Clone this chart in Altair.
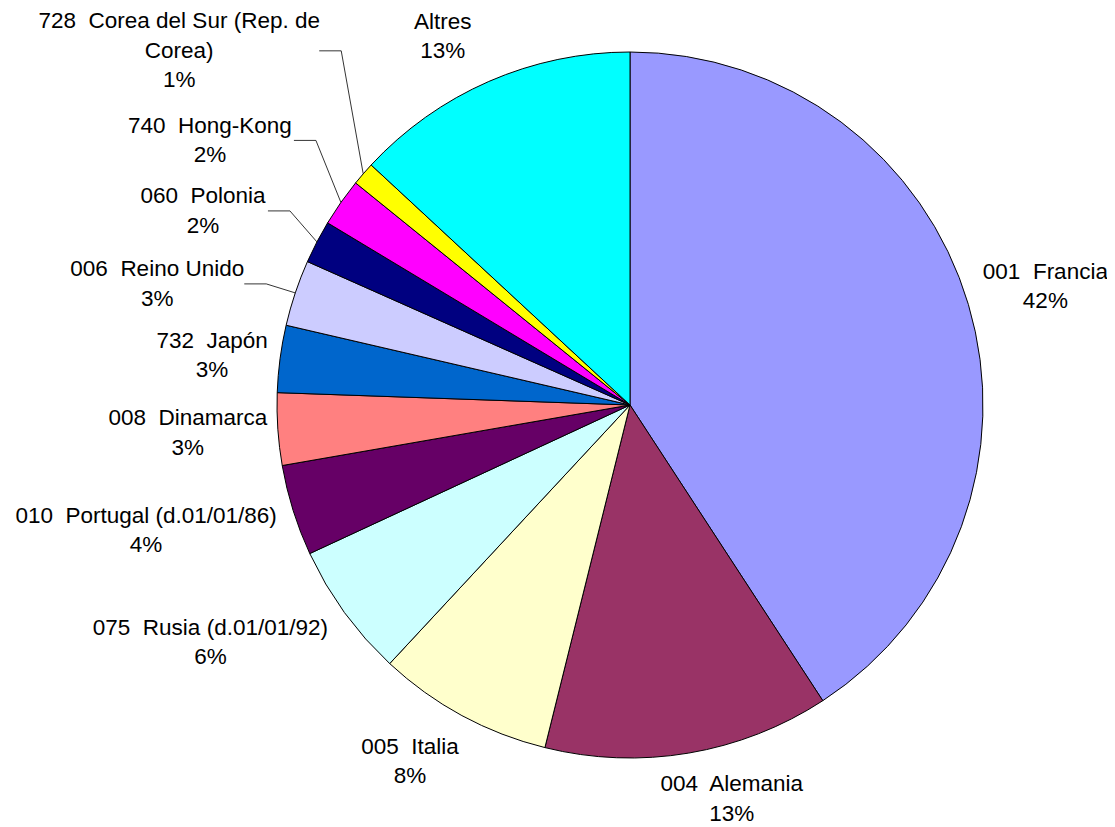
import math
import altair as alt
import pandas as pd

# ---------------- data ----------------
NAMES = [
    "001  Francia",
    "004  Alemania",
    "005  Italia",
    "075  Rusia (d.01/01/92)",
    "010  Portugal (d.01/01/86)",
    "008  Dinamarca",
    "732  Japón",
    "006  Reino Unido",
    "060  Polonia",
    "740  Hong-Kong",
    "728  Corea del Sur (Rep. de\nCorea)",
    "Altres",
]
VALUES = [40.8, 13.07, 8.04, 6.17, 4.17, 3.30, 3.07, 3.03, 1.97, 2.20, 1.07, 13.10]
PCT_LABELS = ["42%", "13%", "8%", "6%", "4%", "3%", "3%", "3%", "2%", "2%", "1%", "13%"]
COLORS = [
    "#9999FF", "#993366", "#FFFFCC", "#CCFFFF", "#660066", "#FF8080",
    "#0066CC", "#CCCCFF", "#000080", "#FF00FF", "#FFFF00", "#00FFFF",
]

# ---------------- layout ----------------
W, H = 1099, 818
CX, CY = 622, 397
R = 353
FONT_SIZE = 22.5
LINE_H = 29.5
# label block centre, offset from the slice's mid-point on the rim
LABEL_DX = [77, 43, -52, -134, -147, -90, -68, -138, -114, -131, -184, -46]
LABEL_DY = [-18, 46, 46, 30, 20, 4, -3, -9, -31, -62, -123, -45]
# labels joined to their slice by a leader line: index -> half text width + gap
LEADER_HALF = {7: 87, 8: 65, 9: 84, 10: 140}
ELBOW_LEN = 22

total = sum(VALUES)
mids = []
acc = 0.0
for v in VALUES:
    mids.append((acc + v / 2) / total * 2 * math.pi)
    acc += v
rim_x = [CX + R * math.sin(a) for a in mids]
rim_y = [CY - R * math.cos(a) for a in mids]

NB = "\u00a0 "
pie_df = pd.DataFrame({
    "idx": list(range(len(NAMES))),
    "name": NAMES,
    "value": VALUES,
})

lab_rows = []
for i, n in enumerate(NAMES):
    text = n.replace("  ", NB) + "\n" + PCT_LABELS[i]
    n_lines = text.count("\n") + 1
    cy = rim_y[i] + LABEL_DY[i]
    lab_rows.append({
        "label": text,
        "lx": rim_x[i] + LABEL_DX[i],
        # first line position so the whole block is centred on cy
        "ly": cy - (n_lines - 1) * LINE_H / 2,
    })
lab_df = pd.DataFrame(lab_rows)

line_rows = []
for i, hw in LEADER_HALF.items():
    lx = rim_x[i] + LABEL_DX[i]
    ly = rim_y[i] + LABEL_DY[i]
    pts = [(lx + hw, ly), (lx + hw + ELBOW_LEN, ly), (rim_x[i], rim_y[i])]
    for k, (px, py) in enumerate(pts):
        line_rows.append({"grp": NAMES[i], "k": k, "px": px, "py": py})
line_df = pd.DataFrame(line_rows)

xs = alt.Scale(domain=[0, W], range=[0, W], nice=False, zero=False)
ys = alt.Scale(domain=[0, H], range=[0, H], nice=False, zero=False)

arcs = alt.Chart(pie_df).mark_arc(
    radius=R, stroke="black", strokeWidth=1
).encode(
    theta=alt.Theta("value:Q", stack=True),
    color=alt.Color("name:N", scale=alt.Scale(domain=NAMES, range=COLORS), legend=None),
    order=alt.Order("idx:Q"),
    x=alt.value(CX),
    y=alt.value(CY),
)

leaders = alt.Chart(line_df).mark_line(color="black", strokeWidth=0.8).encode(
    x=alt.X("px:Q", scale=xs, axis=None),
    y=alt.Y("py:Q", scale=ys, axis=None),
    detail="grp:N",
    order="k:Q",
)

labels = alt.Chart(lab_df).mark_text(
    font="Liberation Sans, Arial, sans-serif",
    fontSize=FONT_SIZE,
    lineHeight=LINE_H,
    align="center",
    baseline="middle",
    color="black",
    lineBreak="\n",
).encode(
    x=alt.X("lx:Q", scale=xs, axis=None),
    y=alt.Y("ly:Q", scale=ys, axis=None),
    text="label:N",
)

chart = alt.layer(arcs, leaders, labels).properties(
    width=W, height=H, autosize="none", padding=0, background="white"
).configure_view(stroke=None)

chart.save("out.html", embed_options={"renderer": "svg", "actions": False})
